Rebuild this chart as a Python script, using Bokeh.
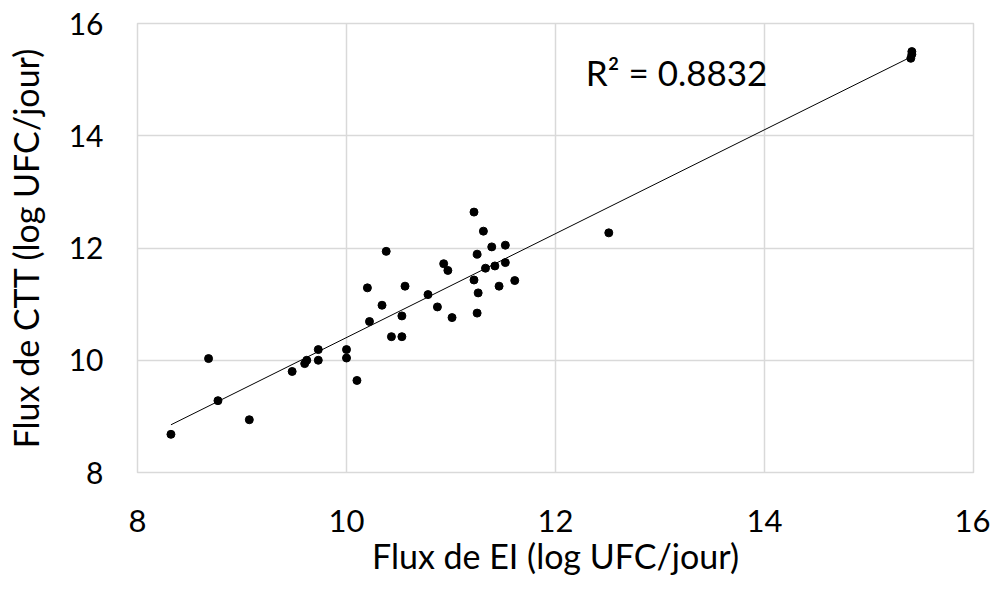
import numpy as np
from bokeh.plotting import figure
from bokeh.models import ColumnDataSource, FixedTicker, Label
from bokeh.embed import file_html
from bokeh.resources import INLINE

flux_ei = [8.32, 8.68, 8.77, 9.07, 9.48, 9.60, 9.62, 9.73, 9.73, 10.00, 10.00, 10.10,
           10.22, 10.20, 10.34, 10.38, 10.56, 10.53, 10.43, 10.53, 10.78, 10.87, 11.01,
           10.93, 10.97, 11.22, 11.31, 11.39, 11.52, 11.25, 11.33, 11.42, 11.52, 11.22,
           11.61, 11.46, 11.26, 11.25, 12.51, 15.41, 15.41, 15.40]
flux_ctt = [8.68, 10.03, 9.28, 8.94, 9.80, 9.94, 10.00, 10.19, 10.00, 10.19, 10.04, 9.64,
            10.69, 11.29, 10.98, 11.94, 11.32, 10.79, 10.42, 10.42, 11.17, 10.95, 10.76,
            11.72, 11.60, 12.64, 12.30, 12.02, 12.05, 11.89, 11.64, 11.68, 11.74, 11.43,
            11.42, 11.32, 11.20, 10.84, 12.27, 15.50, 15.45, 15.38]
x_ticks = [8, 10, 12, 14, 16]
y_ticks = [8, 10, 12, 14, 16]
r2_text = "R\u00b2 = 0.8832"
x_title = "Flux de EI (log UFC/jour)"
y_title = "Flux de CTT (log UFC/jour)"

FONT = "Lato"

p = figure(width=990, height=585, x_range=(8, 16), y_range=(8, 16),
           output_backend="svg", toolbar_location=None,
           min_border_left=137, min_border_right=17, min_border_top=23, min_border_bottom=113)
p.background_fill_color = "white"
p.border_fill_color = "white"
p.outline_line_color = "#d9d9d9"
p.outline_line_width = 1.5

for ax, ticks, title, st in ((p.xaxis, x_ticks, x_title, 37), (p.yaxis, y_ticks, y_title, 34)):
    ax.ticker = FixedTicker(ticks=ticks)
    ax.axis_line_color = None
    ax.major_tick_line_color = None
    ax.minor_tick_line_color = None
    ax.major_tick_out = 0
    ax.major_tick_in = 0
    ax.minor_tick_out = 0
    ax.minor_tick_in = 0
    ax.major_label_text_font = FONT
    ax.major_label_text_font_size = "31px"
    ax.major_label_text_color = "#000000"
    ax.major_label_standoff = st
    ax.axis_label = title
    ax.axis_label_text_font = FONT
    ax.axis_label_text_font_size = "34px"
    ax.axis_label_text_font_style = "normal"
    ax.axis_label_text_color = "#000000"

p.yaxis.major_label_text_font_size = "30px"
p.xaxis.axis_label_standoff = 0
p.yaxis.axis_label_standoff = 20

p.xgrid.ticker = FixedTicker(ticks=x_ticks)
p.ygrid.ticker = FixedTicker(ticks=y_ticks)
p.grid.grid_line_color = "#d9d9d9"
p.grid.grid_line_width = 1.5

# trend line (least squares)
xs = np.array(flux_ei)
ys = np.array(flux_ctt)
slope, intercept = np.polyfit(xs, ys, 1)
x_line = [xs.min(), xs.max()]
y_line = [slope * v + intercept for v in x_line]
p.line(x_line, y_line, line_color="#000000", line_width=1)

src = ColumnDataSource(dict(x=flux_ei, y=flux_ctt))
p.scatter("x", "y", source=src, size=8, fill_color="#000000", line_color="#000000")

p.add_layout(Label(x=12.29, y=15.14, text=r2_text, text_font=FONT, text_font_size="35px",
                   text_color="#000000", text_baseline="middle"))

open("out.html", "w").write(file_html(p, INLINE))
